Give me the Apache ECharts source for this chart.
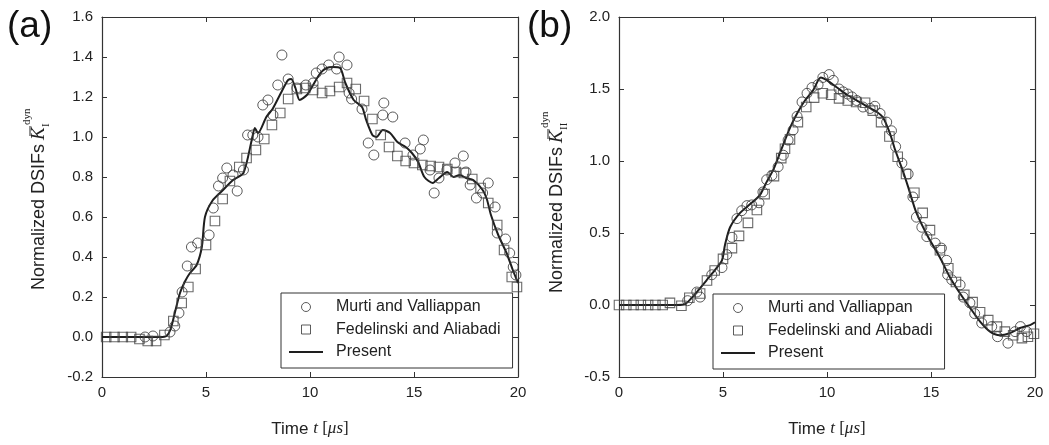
<!DOCTYPE html>
<html><head><meta charset="utf-8">
<script src="https://cdn.jsdelivr.net/npm/echarts@6/dist/echarts.min.js"></script>
<style>html,body{margin:0;padding:0;background:#fff}#c{width:1049px;height:445px}</style>
</head><body><div id="c"></div>
<script>
const seriesNames = ['Murti and Valliappan', 'Fedelinski and Aliabadi', 'Present'];
const panelLabels = ['(a)', '(b)'];
const xTicks = [0, 5, 10, 15, 20];
const yTicksA = [-0.2, 0, 0.2, 0.4, 0.6, 0.8, 1.0, 1.2, 1.4, 1.6];
const yTicksB = [-0.5, 0, 0.5, 1.0, 1.5, 2.0];

// Panel (a): mode I
const presentA = [[0,0],[1,0],[2,0],[2.8,0],[3.1,0.005],[3.3,0.04],[3.5,0.12],[3.75,0.22],[4.0,0.28],[4.23,0.32],[4.55,0.36],[4.8,0.45],[4.95,0.6],[5.3,0.68],[5.77,0.73],[6.3,0.785],[6.8,0.82],[7.2,0.985],[7.35,1.045],[7.5,1.02],[7.9,1.1],[8.2,1.14],[8.6,1.22],[8.8,1.26],[8.95,1.285],[9.1,1.29],[9.3,1.245],[9.5,1.185],[9.85,1.21],[10.15,1.26],[10.5,1.32],[10.8,1.345],[11.1,1.35],[11.45,1.345],[11.7,1.27],[12.1,1.185],[12.5,1.15],[12.7,1.085],[13.0,1.01],[13.2,1.0],[13.5,1.035],[13.85,1.02],[14.2,0.975],[14.6,0.95],[14.9,0.92],[15.2,0.875],[15.5,0.80],[15.9,0.77],[16.2,0.795],[16.6,0.825],[16.9,0.8],[17.2,0.81],[17.5,0.795],[17.85,0.785],[18.3,0.735],[18.5,0.69],[18.7,0.61],[19.05,0.51],[19.45,0.42],[19.75,0.335],[20,0.27]];
const murtiA = [[2.07,0.0],[2.45,0.005],[3.27,0.025],[3.5,0.055],[3.7,0.12],[3.85,0.225],[4.1,0.355],[4.3,0.45],[4.6,0.47],[5.15,0.51],[5.35,0.645],[5.6,0.755],[5.8,0.795],[6.0,0.845],[6.3,0.81],[6.5,0.73],[6.8,0.835],[7.0,1.01],[7.25,1.01],[7.5,1.0],[7.73,1.16],[7.98,1.185],[8.22,1.11],[8.45,1.26],[8.65,1.41],[8.95,1.29],[9.37,1.245],[9.8,1.26],[10.15,1.27],[10.3,1.32],[10.58,1.34],[10.9,1.36],[11.28,1.34],[11.4,1.40],[11.78,1.36],[11.88,1.22],[12.0,1.19],[12.5,1.14],[12.8,0.97],[13.07,0.91],[13.5,1.11],[13.55,1.17],[13.98,1.10],[14.57,0.97],[14.95,0.91],[15.3,0.94],[15.45,0.985],[15.77,0.835],[15.97,0.72],[16.2,0.795],[16.58,0.835],[16.97,0.87],[17.37,0.905],[17.5,0.825],[17.7,0.76],[18.0,0.695],[18.3,0.72],[18.57,0.77],[18.9,0.65],[19.0,0.52],[19.4,0.49],[19.6,0.42],[19.77,0.35],[19.9,0.31]];
const fedelA = [[0.2,0],[0.6,0],[1.0,0],[1.4,0],[1.8,-0.01],[2.2,-0.02],[2.6,-0.02],[3.0,0.01],[3.43,0.08],[3.83,0.17],[4.15,0.25],[4.5,0.34],[5.0,0.46],[5.43,0.58],[5.8,0.69],[6.15,0.78],[6.6,0.85],[6.95,0.895],[7.4,0.935],[7.8,0.99],[8.17,1.06],[8.57,1.12],[8.95,1.19],[9.37,1.24],[9.77,1.245],[10.15,1.235],[10.58,1.22],[10.96,1.23],[11.4,1.25],[11.78,1.27],[12.2,1.24],[12.6,1.18],[13.0,1.09],[13.4,1.01],[13.8,0.95],[14.2,0.905],[14.6,0.88],[15.0,0.87],[15.4,0.86],[15.8,0.855],[16.2,0.85],[16.6,0.84],[17.0,0.825],[17.4,0.82],[17.8,0.79],[18.2,0.745],[18.57,0.67],[19.0,0.56],[19.33,0.435],[19.7,0.30],[19.95,0.25]];

// Panel (b): mode II
const presentB = [[0,0],[1,0],[2,0],[2.8,0],[3.17,0.005],[3.5,0.05],[3.74,0.09],[4.2,0.17],[4.6,0.24],[4.95,0.31],[5.1,0.42],[5.34,0.54],[5.82,0.64],[6.38,0.71],[6.78,0.765],[7.1,0.855],[7.42,0.94],[7.83,1.09],[8.22,1.23],[8.6,1.34],[8.94,1.42],[9.33,1.49],[9.7,1.58],[10.0,1.56],[10.48,1.51],[10.96,1.46],[11.44,1.42],[11.92,1.38],[12.4,1.34],[12.7,1.30],[13.03,1.19],[13.27,1.08],[13.6,0.95],[13.9,0.82],[14.08,0.735],[14.3,0.64],[14.87,0.47],[15.43,0.33],[15.9,0.195],[16.4,0.08],[16.88,-0.02],[17.36,-0.115],[17.84,-0.185],[18.3,-0.21],[18.8,-0.195],[19.28,-0.16],[19.76,-0.14],[20,-0.12]];
const murtiB = [[3.3,0.03],[3.74,0.09],[3.9,0.055],[4.46,0.21],[4.95,0.26],[5.18,0.35],[5.43,0.47],[5.67,0.6],[5.9,0.655],[6.15,0.69],[6.38,0.695],[6.73,0.71],[6.92,0.785],[7.1,0.87],[7.35,0.9],[7.65,0.96],[7.9,1.04],[8.13,1.145],[8.37,1.215],[8.56,1.31],[8.8,1.41],[9.04,1.47],[9.28,1.51],[9.57,1.53],[9.8,1.58],[10.1,1.60],[10.3,1.56],[10.58,1.50],[10.78,1.48],[11.0,1.465],[11.2,1.445],[11.43,1.42],[11.73,1.375],[12.07,1.365],[12.3,1.38],[12.55,1.33],[12.87,1.27],[13.1,1.21],[13.3,1.10],[13.6,0.985],[13.9,0.91],[14.13,0.75],[14.3,0.61],[14.56,0.54],[14.8,0.475],[15.2,0.43],[15.5,0.395],[15.75,0.31],[15.8,0.21],[16.0,0.175],[16.4,0.14],[16.55,0.055],[16.87,0.015],[17.1,-0.06],[17.44,-0.125],[17.92,-0.15],[18.2,-0.22],[18.7,-0.265],[19.04,-0.185],[19.3,-0.15],[19.6,-0.185]];
const fedelB = [[0,0],[0.35,0],[0.7,0],[1.05,0],[1.4,0],[1.75,0],[2.1,0],[2.45,0.015],[3.0,-0.005],[3.38,0.05],[3.9,0.08],[4.23,0.17],[4.6,0.24],[5.0,0.32],[5.43,0.395],[5.77,0.48],[6.2,0.57],[6.63,0.66],[7.0,0.77],[7.45,0.895],[7.8,1.02],[7.98,1.085],[8.22,1.15],[8.6,1.27],[9.0,1.375],[9.38,1.44],[9.8,1.47],[10.2,1.46],[10.58,1.435],[11.0,1.42],[11.4,1.41],[11.83,1.405],[12.2,1.35],[12.6,1.27],[13.0,1.17],[13.4,1.03],[13.8,0.91],[14.2,0.78],[14.6,0.64],[14.95,0.52],[15.43,0.38],[15.83,0.255],[16.2,0.16],[16.6,0.07],[17.0,0.02],[17.36,-0.05],[17.75,-0.105],[18.17,-0.15],[18.55,-0.185],[18.95,-0.21],[19.37,-0.23],[19.66,-0.22],[19.95,-0.2]];

const SANS = '"Liberation Sans", Arial, sans-serif';
const SERIF = '"Liberation Serif", "DejaVu Serif", serif';
const AX = '#333';
const TXT = '#222';

const grids = [
  {left: 102, top: 17, width: 416, height: 360},
  {left: 619, top: 17, width: 416, height: 360}
];

const xName = {
  name: '{a|Time }{i|t}{b| [}{i|μs}{b|]}',
  nameLocation: 'middle', nameGap: 42,
  nameTextStyle: {rich: {
    a: {fontFamily: SANS, fontSize: 17, color: TXT, lineHeight: 20},
    b: {fontFamily: SERIF, fontSize: 17, color: TXT, lineHeight: 20},
    i: {fontFamily: SERIF, fontStyle: 'italic', fontSize: 17, color: TXT, lineHeight: 20}
  }}
};

function xAxis(g, pos) {
  const a = {
    type: 'value', gridIndex: g, position: pos, min: xTicks[0], max: xTicks[xTicks.length - 1], interval: 5,
    axisLine: {show: true, onZero: false, lineStyle: {color: AX, width: 1.2}},
    axisTick: {show: true, inside: true, length: 5, lineStyle: {color: AX, width: 1}},
    axisLabel: {show: pos === 'bottom', margin: 8, fontFamily: SANS, fontSize: 15, color: TXT},
    splitLine: {show: false}
  };
  if (pos === 'bottom') Object.assign(a, xName);
  return a;
}
function yAxis(g, pos, ticks, interval) {
  return {
    type: 'value', gridIndex: g, position: pos, min: ticks[0], max: ticks[ticks.length - 1], interval: interval,
    axisLine: {show: true, onZero: false, lineStyle: {color: AX, width: 1.2}},
    axisTick: {show: true, inside: true, length: 5, lineStyle: {color: AX, width: 1}},
    axisLabel: {show: pos === 'left', margin: 9, fontFamily: SANS, fontSize: 15, color: TXT,
      formatter: v => (Math.abs(v) < 1e-9 ? 0 : v).toFixed(1)},
    splitLine: {show: false}
  };
}

function panelSeries(idx, present, murti, fedel) {
  return [
    {type: 'line', name: seriesNames[2], xAxisIndex: idx * 2, yAxisIndex: idx * 2, data: present,
     symbol: 'none', smooth: 0.25, z: 2, color: '#1e1e1e',
     lineStyle: {color: '#1e1e1e', width: 2}, emphasis: {disabled: true}},
    {type: 'scatter', name: seriesNames[0], xAxisIndex: idx * 2, yAxisIndex: idx * 2, data: murti,
     symbol: 'circle', symbolSize: 10, z: 3,
     itemStyle: {color: 'rgba(255,255,255,0)', borderColor: '#333', borderWidth: 1}, emphasis: {disabled: true}},
    {type: 'scatter', name: seriesNames[1], xAxisIndex: idx * 2, yAxisIndex: idx * 2, data: fedel,
     symbol: 'rect', symbolSize: 9.5, z: 3,
     itemStyle: {color: 'rgba(255,255,255,0)', borderColor: '#444', borderWidth: 1.1}, emphasis: {disabled: true}}
  ];
}

function legend(left, top) {
  return {
    orient: 'vertical', left: left, top: top, selectedMode: false,
    data: [
      {name: seriesNames[0], icon: 'circle', itemStyle: {color: '#fff', borderColor: '#333', borderWidth: 1}},
      {name: seriesNames[1], icon: 'path://M0 0H10V10H0Z', itemStyle: {color: '#fff', borderColor: '#333', borderWidth: 1}},
      {name: seriesNames[2], itemStyle: {color: 'rgba(0,0,0,0)', borderWidth: 0, opacity: 0},
       lineStyle: {color: '#1e1e1e', width: 2}}
    ],
    itemWidth: 34, itemHeight: 9, itemGap: 6.5, symbolKeepAspect: true,
    padding: [6, 12, 8, 7],
    borderColor: '#333', borderWidth: 1, backgroundColor: '#fff',
    textStyle: {fontFamily: SANS, fontSize: 16, color: TXT, lineHeight: 16, padding: [0, 0, 0, 8]}
  };
}

function yTitle(x0, y0, sub) {
  return {
    type: 'group', x: x0, y: y0, rotation: Math.PI / 2, silent: true,
    children: [
      {type: 'text', style: {text: 'Normalized DSIFs', x: 0, y: 0, font: '18px ' + SANS, fill: TXT, align: 'left', verticalAlign: 'middle'}},
      {type: 'text', style: {text: 'K', x: 150, y: 0, font: 'italic 19px ' + SERIF, fill: TXT, align: 'left', verticalAlign: 'middle'}},
      {type: 'line', shape: {x1: 154, y1: -9, x2: 164, y2: -9}, style: {stroke: TXT, lineWidth: 1}},
      {type: 'text', style: {text: sub, x: 163, y: 7, font: '11px ' + SERIF, fill: TXT, align: 'left', verticalAlign: 'middle'}},
      {type: 'text', style: {text: 'dyn', x: 165, y: -12, font: '11px ' + SERIF, fill: TXT, align: 'left', verticalAlign: 'middle'}}
    ]
  };
}

const option = {
  animation: false,
  backgroundColor: '#fff',
  grid: grids,
  xAxis: [xAxis(0, 'bottom'), xAxis(0, 'top'), xAxis(1, 'bottom'), xAxis(1, 'top')],
  yAxis: [yAxis(0, 'left', yTicksA, 0.2), yAxis(0, 'right', yTicksA, 0.2), yAxis(1, 'left', yTicksB, 0.5), yAxis(1, 'right', yTicksB, 0.5)],
  legend: [legend(281, 293), legend(713, 294)],
  series: [].concat(panelSeries(0, presentA, murtiA, fedelA), panelSeries(1, presentB, murtiB, fedelB)),
  graphic: [
    {type: 'text', left: 7, top: 8, silent: true, style: {text: panelLabels[0], font: '37px ' + SANS, fill: '#111'}},
    {type: 'text', left: 527, top: 8, silent: true, style: {text: panelLabels[1], font: '37px ' + SANS, fill: '#111'}},
    yTitle(39, 290, 'I'),
    yTitle(557, 293, 'II')
  ]
};
const chart = echarts.init(document.getElementById('c'), null, {renderer: 'canvas'});
chart.setOption(option);
</script></body></html>
